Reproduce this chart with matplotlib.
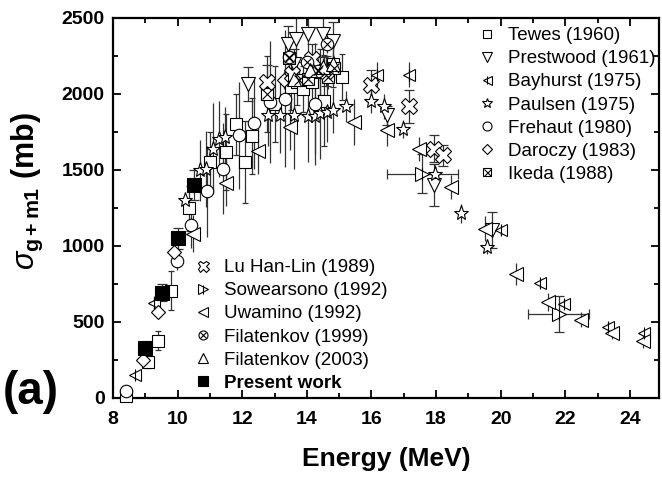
import matplotlib
matplotlib.use("Agg")
import matplotlib.pyplot as plt
from matplotlib.ticker import MultipleLocator

plt.rcParams['font.family'] = ['Liberation Sans', 'DejaVu Sans']
plt.rcParams['mathtext.fontset'] = 'custom'
plt.rcParams['mathtext.rm'] = 'Liberation Sans'
plt.rcParams['mathtext.bf'] = 'Liberation Sans:bold'
plt.rcParams['mathtext.it'] = 'Liberation Sans:italic'

# ---------------- data ----------------
tewes_E = [8.39, 9.07, 9.38, 9.81, 10.36, 10.99, 11.51, 11.80, 12.10, 12.29, 12.77, 13.01, 13.50, 13.70, 13.87, 14.16, 14.42, 14.53, 14.82, 15.08]
tewes_y = [10, 236, 378, 706, 1247, 1553, 1618, 1800, 1553, 1723, 2001, 1931, 2045, 2078, 2034, 2078, 2143, 1957, 2198, 2110]
tewes_err = [20, 40, 60, 130, 150, 200, 250, 200, 270, 250, 250, 250, 150, 150, 150, 150, 150, 300, 150, 150]

pw_E = [12.17, 13.41, 13.61, 13.67, 14.03, 14.49, 14.82, 16.49, 17.93, 19.73]
pw_y = [2067, 2330, 2198, 2362, 2395, 2395, 2351, 1859, 1400, 1105]
pw_err = [110, 120, 100, 150, 150, 150, 120, 60, 140, 120]

bh_E = [8.68, 9.26, 13.41, 16.17, 17.15, 20.0, 21.21, 21.96, 23.33, 24.45]
bh_y = [149, 628, 2100, 2128, 2128, 1105, 755, 619, 470, 426]
bh_err = [30, 40, 80, 80, 80, 30, 30, 30, 30, 30]

pa_E = [10.23, 10.69, 10.88, 11.08, 11.28, 11.47, 12.80, 13.18, 13.60, 14.03, 14.26, 14.42, 14.62, 14.82, 15.21, 15.99, 16.39, 16.98, 17.96, 18.77, 19.57]
pa_y = [1301, 1498, 1509, 1640, 1706, 1717, 1859, 1859, 1859, 1852, 1852, 1874, 1881, 1892, 1918, 1957, 1918, 1771, 1476, 1214, 995]
pa_err = [40, 200, 250, 300, 250, 200, 200, 250, 350, 300, 250, 300, 200, 150, 100, 80, 80, 60, 60, 60, 50]

fr_E = [8.39, 9.97, 10.42, 10.92, 11.41, 11.89, 12.36, 12.85, 13.32, 14.26]
fr_y = [44, 903, 1137, 1360, 1509, 1728, 1809, 1946, 1968, 1935]
fr_err = [20, 60, 150, 300, 300, 350, 300, 400, 450, 400]

da_E = [8.92, 9.40, 9.90, 13.30, 14.10]
da_y = [252, 569, 962, 2090, 2190]
da_err = [20, 40, 40, 60, 60]

ik_E = [12.78, 13.45, 13.75, 14.05, 14.35, 14.65, 14.85]
ik_y = [2000, 2240, 2090, 2100, 2160, 2110, 2170]
ik_err = [60, 80, 80, 80, 80, 80, 80]

lu_E = [12.78, 13.55, 14.15, 14.60, 15.99, 17.15, 17.93, 18.22]
lu_y = [2078, 2130, 2231, 2150, 2056, 1918, 1640, 1597]
lu_err = [110, 100, 100, 100, 100, 110, 90, 70]

so_E = [17.57, 21.79]
so_y = [1476, 553]
so_xerr = [1.1, 0.95]
so_yerr = [130, 120]

uw_E = [10.49, 11.50, 12.48, 13.48, 15.47, 16.49, 17.48, 18.46, 19.51, 20.48, 21.47, 22.48, 23.44, 24.41]
uw_y = [1082, 1415, 1625, 1782, 1815, 1760, 1640, 1389, 1115, 816, 634, 514, 426, 372]
uw_err = [120, 150, 150, 150, 150, 100, 80, 80, 80, 70, 60, 50, 40, 40]

f99_E = [13.45, 14.0, 14.35, 14.62]
f99_y = [2245, 2210, 2150, 2330]
f99_err = [60, 60, 60, 60]

f03_E = [13.6, 14.1, 14.5, 14.8]
f03_y = [2100, 2160, 2180, 2200]
f03_err = [60, 60, 60, 60]

pr_E = [9.0, 9.51, 10.0, 10.52]
pr_y = [328, 693, 1050, 1400]
pr_err = [0, 55, 70, 100]

labels1 = ["Tewes (1960)", "Prestwood (1961)", "Bayhurst (1975)", "Paulsen (1975)",
           "Frehaut (1980)", "Daroczy (1983)", "Ikeda (1988)"]
labels2 = ["Lu Han-Lin (1989)", "Sowearsono (1992)", "Uwamino (1992)",
           "Filatenkov (1999)", "Filatenkov (2003)", "Present work"]

# ---------------- figure ----------------
fig = plt.figure(figsize=(6.62, 4.79), dpi=100)
ax = fig.add_axes([113/662, 1-398/479, (659-113)/662, (398-18)/479])

ECOL = '#333333'
MEW = 0.8

def eb(x, y, yerr, xerr=None, cap=0):
    ax.errorbar(x, y, yerr=yerr, xerr=xerr, fmt='none', ecolor=ECOL,
                elinewidth=0.9, capsize=cap, capthick=0.9, zorder=2)

def mk(x, y, marker, ms, filled=False, z=3):
    h, = ax.plot(x, y, linestyle='none', marker=marker, ms=ms,
                 mfc='black' if filled else 'white', mec='black', mew=MEW,
                 zorder=z, clip_on=False)
    return h

def mk_over(x, y, marker, ms, z=4):
    h, = ax.plot(x, y, linestyle='none', marker=marker, ms=ms,
                 mec='black', mfc='none', mew=MEW, zorder=z, clip_on=False)
    return h

eb(fr_E, fr_y, fr_err)
eb(tewes_E, tewes_y, tewes_err, cap=2.5)
eb(pa_E, pa_y, pa_err, xerr=[0.15]*len(pa_E))
eb(pw_E, pw_y, pw_err, cap=3.5)
eb(bh_E, bh_y, bh_err, xerr=[0.1]*len(bh_E))
eb(da_E, da_y, da_err)
eb(ik_E, ik_y, ik_err)
eb(lu_E, lu_y, lu_err, cap=3.5)
eb(so_E, so_y, so_yerr, xerr=so_xerr, cap=3.5)
eb(uw_E, uw_y, uw_err, xerr=[0.12]*len(uw_E))
eb(f99_E, f99_y, f99_err)
eb(f03_E, f03_y, f03_err)
eb(pr_E, pr_y, pr_err, cap=3.5)

h_tewes = mk(tewes_E, tewes_y, 's', 8)
h_pw = mk(pw_E, pw_y, 'v', 10)
h_bh1 = mk(bh_E, bh_y, '<', 9)
h_bh2 = mk_over(bh_E, bh_y, '|', 8)
h_pa = mk(pa_E, pa_y, '*', 11)
h_fr = mk(fr_E, fr_y, 'o', 9)
h_da = mk(da_E, da_y, 'D', 7)
h_ik1 = mk(ik_E, ik_y, 's', 8)
h_ik2 = mk_over(ik_E, ik_y, 'x', 7)
h_lu = mk(lu_E, lu_y, 'X', 11)
h_so1 = mk(so_E, so_y, '>', 10)
h_so2 = mk_over(so_E, so_y, '|', 9)
h_uw = mk(uw_E, uw_y, '<', 10)
h_f991 = mk(f99_E, f99_y, 'o', 9)
h_f992 = mk_over(f99_E, f99_y, 'x', 6)
h_f03 = mk(f03_E, f03_y, '^', 10)
h_pr = mk(pr_E, pr_y, 's', 10.5, filled=True, z=5)

ax.set_xlim(8, 24.9)
ax.set_ylim(0, 2500)
ax.xaxis.set_major_locator(MultipleLocator(2))
ax.xaxis.set_minor_locator(MultipleLocator(1))
ax.yaxis.set_major_locator(MultipleLocator(500))
ax.yaxis.set_minor_locator(MultipleLocator(250))
ax.tick_params(which='both', direction='in', top=True, right=True, width=1.3)
ax.tick_params(which='major', length=6, labelsize=14)
ax.tick_params(axis='x', which='major', pad=9)
ax.tick_params(axis='y', which='major', pad=6)
ax.tick_params(which='minor', length=3.5)
for lab in ax.get_xticklabels() + ax.get_yticklabels():
    lab.set_fontweight('bold')
for s in ax.spines.values():
    s.set_linewidth(1.6)

ax.set_xlabel('Energy (MeV)', fontsize=19, fontweight='bold', labelpad=14)
ax.set_ylabel(r'$\sigma_{\mathbf{g+m1}}$ (mb)', fontsize=22, fontweight='bold')
ax.yaxis.set_label_coords((45-113)/546, 0.545)

fig.text(0.004, 1-414/479, '(a)', fontsize=33, fontweight='bold', ha='left', va='bottom')

leg1 = ax.legend([h_tewes, h_pw, (h_bh1, h_bh2), h_pa, h_fr, h_da, (h_ik1, h_ik2)], labels1,
                 loc='upper left', bbox_to_anchor=(478/662, 1-27/479), bbox_transform=fig.transFigure,
                 frameon=False, fontsize=13.5, markerscale=0.72, handlelength=1.0,
                 handletextpad=0.6, labelspacing=0.32, borderaxespad=0, borderpad=0)
ax.add_artist(leg1)
leg2 = ax.legend([h_lu, (h_so1, h_so2), h_uw, (h_f991, h_f992), h_f03, h_pr], labels2,
                 loc='upper left', bbox_to_anchor=(194/662, 1-259/479), bbox_transform=fig.transFigure,
                 frameon=False, fontsize=13.5, markerscale=0.72, handlelength=1.0,
                 handletextpad=0.6, labelspacing=0.32, borderaxespad=0, borderpad=0)
leg2.get_texts()[-1].set_fontweight('bold')

fig.savefig('out.png', dpi=100)
